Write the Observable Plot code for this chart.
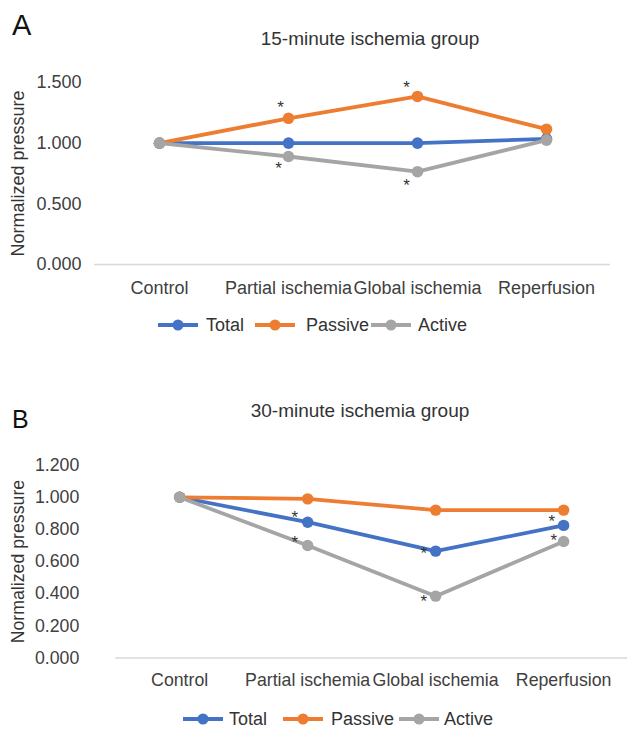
<!DOCTYPE html>
<html>
<head>
<meta charset="utf-8">
<script src="https://cdn.jsdelivr.net/npm/d3@7"></script>
<script src="https://cdn.jsdelivr.net/npm/@observablehq/plot@0.6"></script>
<style>
  html, body { margin:0; padding:0; width:635px; height:729px; overflow:hidden; background:#fff; }
  body { position:relative; font-family:"Liberation Sans", Arial, sans-serif; color:#404040; }
  .abs { position:absolute; line-height:1; white-space:nowrap; }
  .letter { font-family:"Liberation Sans", Arial, sans-serif; color:#111; }
  .title { font-size:19px; color:#333; transform:translateX(-50%); }
  .leg { font-size:18px; color:#333; }
</style>
</head>
<body>
<script>
// ---- data ----
const categories = ["Control", "Partial ischemia", "Global ischemia", "Reperfusion"];
const seriesNames = ["Total", "Passive", "Active"];
const seriesColors = ["#4472C4", "#ED7D31", "#A5A5A5"];

const totalA   = [1.000, 1.000, 1.000, 1.035];
const passiveA = [1.000, 1.205, 1.385, 1.115];
const activeA  = [1.000, 0.890, 0.765, 1.025];

const totalB   = [1.000, 0.845, 0.665, 0.825];
const passiveB = [1.000, 0.990, 0.920, 0.920];
const activeB  = [1.000, 0.700, 0.385, 0.725];

const ticksA = [0, 0.5, 1.0, 1.5];
const ticksB = [0, 0.2, 0.4, 0.6, 0.8, 1.0, 1.2];

const titleA = "15-minute ischemia group";
const titleB = "30-minute ischemia group";
const yLabel = "Normalized pressure";

// significance markers: [series, category index]
const starsA = [["Passive", 1], ["Passive", 2], ["Active", 1], ["Active", 2]];
const starsB = [["Total", 1], ["Active", 1], ["Total", 2], ["Active", 2], ["Total", 3], ["Active", 3]];
// marker offsets (style)
const starOffA = [[-8, -11], [-11, -9], [-10, 12], [-11, 14]];
const starOffB = [[-13, -5], [-13, -3], [-12, 3], [-12, 6], [-12, -4], [-10, -1]];

function rowsFrom(t, p, a) {
  const vals = {Total: t, Passive: p, Active: a};
  return seriesNames.flatMap(s => categories.map((c, i) => ({series: s, category: c, value: vals[s][i]})));
}

function panel(cfg) {
  const rows = rowsFrom(...cfg.values);
  const lookup = (s, i) => rows.find(r => r.series === s && r.category === categories[i]);
  const stars = cfg.stars.map(([s, i], k) => ({...lookup(s, i), dx: cfg.off[k][0], dy: cfg.off[k][1]}));
  const marks = [Plot.ruleY([0], {stroke: "#d9d9d9", strokeWidth: 1.5})];
  for (const s of seriesNames) {
    const d = rows.filter(r => r.series === s);
    marks.push(Plot.line(d, {x: "category", y: "value", stroke: "series", strokeWidth: 3.8}));
    marks.push(Plot.dot(d, {x: "category", y: "value", fill: "series", r: 5.8}));
  }
  for (const st of stars) {
    marks.push(Plot.text([st], {x: "category", y: "value", text: () => "*", dx: st.dx, dy: st.dy, fontSize: 17, fill: "#333"}));
  }
  marks.push(Plot.text([yLabel], {frameAnchor: "left", textAnchor: "middle", dx: cfg.labelDx, rotate: -90, fontSize: 18, fill: "#333"}));
  return Plot.plot({
    width: cfg.width, height: cfg.height,
    marginLeft: cfg.ml, marginRight: cfg.mr, marginTop: cfg.mt, marginBottom: cfg.mb,
    style: {fontFamily: "Liberation Sans, Arial, sans-serif", fontSize: "18px", color: "#404040", background: "transparent", overflow: "visible"},
    x: {type: "point", domain: categories, padding: 0.5, label: null, tickSize: 0, tickPadding: cfg.xpad},
    y: {domain: cfg.ydomain, ticks: cfg.ticks, tickFormat: d3.format(".3f"), tickSize: 0, tickPadding: cfg.ypad, label: null},
    color: {domain: seriesNames, range: seriesColors},
    marks
  });
}

function legend(lefts, cy) {
  seriesNames.forEach((s, i) => {
    const sw = document.createElement("div");
    sw.className = "abs";
    sw.style.left = lefts[2 * i] + "px";
    sw.style.top = (cy - 7) + "px";
    sw.innerHTML = `<svg width="42" height="14" style="display:block"><line x1="1" x2="41" y1="7" y2="7" stroke="${seriesColors[i]}" stroke-width="3.8"/><circle cx="21" cy="7" r="5.5" fill="${seriesColors[i]}"/></svg>`;
    document.body.appendChild(sw);
    const t = document.createElement("div");
    t.className = "abs leg";
    t.textContent = s;
    t.style.left = lefts[2 * i + 1] + "px";
    t.style.top = (cy - 9) + "px";
    document.body.appendChild(t);
  });
}

function addText(cls, txt, left, top, size) {
  const d = document.createElement("div");
  d.className = "abs " + cls;
  d.textContent = txt;
  d.style.left = left + "px";
  d.style.top = top + "px";
  if (size) d.style.fontSize = size + "px";
  document.body.appendChild(d);
}

// Panel A
addText("letter", "A", 12, 11, 29);
addText("title", titleA, 370, 29);
const pA = panel({values: [totalA, passiveA, activeA], stars: starsA, off: starOffA, ticks: ticksA,
  ydomain: [0, 1.5], width: 635, height: 254, ml: 94, mr: 25, mt: 32, mb: 40, xpad: 17, ypad: 13, labelDx: -76});
pA.style.position = "absolute"; pA.style.left = "0px"; pA.style.top = "50px";
document.body.appendChild(pA);
legend([157, 206, 254, 306, 370, 418], 325);

// Panel B
addText("letter", "B", 12, 407, 25);
addText("title", titleB, 360, 401);
const pB = panel({values: [totalB, passiveB, activeB], stars: starsB, off: starOffB, ticks: ticksB,
  ydomain: [0, 1.2], width: 645, height: 261, ml: 117, mr: 8, mt: 25, mb: 40, xpad: 16, ypad: 37, labelDx: -99});
pB.style.position = "absolute"; pB.style.left = "0px"; pB.style.top = "440px";
document.body.appendChild(pB);
legend([182, 229, 282, 331, 398, 444], 719);
</script>
</body>
</html>
